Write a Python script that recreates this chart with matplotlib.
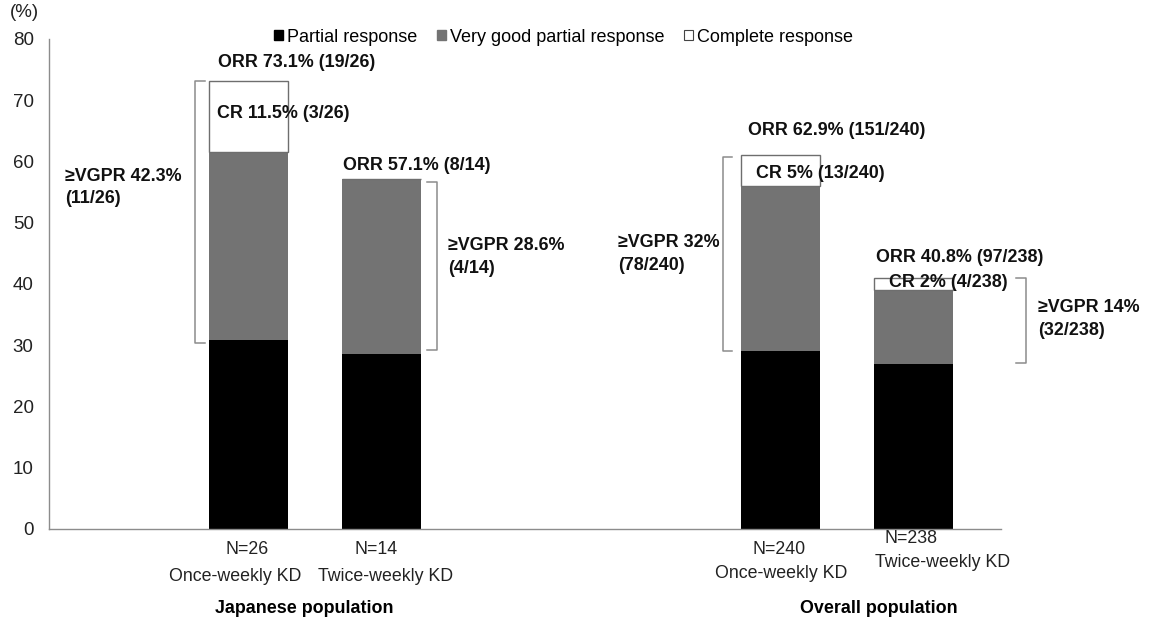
import matplotlib
matplotlib.use('Agg')
import matplotlib.pyplot as plt
from matplotlib.patches import Patch

plt.rcParams['font.family'] = ['Liberation Sans', 'DejaVu Sans']

# stacked bar values (%)
groups = ['Japanese population', 'Overall population']
n_labels = ['N=26', 'N=14', 'N=240', 'N=238']
arm_labels = ['Once-weekly KD', 'Twice-weekly KD', 'Once-weekly KD', 'Twice-weekly KD']
partial = [30.8, 28.6, 29.0, 27.0]
very_good = [30.8, 28.5, 27.0, 12.0]
complete = [11.5, 0.0, 5.0, 2.0]

orr_text = ['ORR 73.1% (19/26)', 'ORR 57.1% (8/14)', 'ORR 62.9% (151/240)', 'ORR 40.8% (97/238)']
cr_text = ['CR 11.5% (3/26)', None, 'CR 5% (13/240)', 'CR 2% (4/238)']
vgpr_text = ['≥VGPR 42.3%\n(11/26)', '≥VGPR 28.6%\n(4/14)', '≥VGPR 32%\n(78/240)', '≥VGPR 14%\n(32/238)']

x = [1.5, 2.5, 5.5, 6.5]
width = 0.594

fig = plt.figure(figsize=(11.5, 6.19), dpi=100)
ax = fig.add_axes([0.0426, 0.1454, 0.8278, 0.7916])

bottom2 = [p + v for p, v in zip(partial, very_good)]
ax.bar(x, partial, width, color='black', label='Partial response')
ax.bar(x, very_good, width, bottom=partial, color='#737373', label='Very good partial response')
ax.bar(x, complete, width, bottom=bottom2, color='white', edgecolor='#6e6e6e', linewidth=1.0,
       label='Complete response')

ax.set_xlim(0, 7.16)
ax.set_ylim(0, 80)
ax.set_yticks(range(0, 81, 10))
ax.set_xticks([])
ax.tick_params(axis='y', length=0, pad=11, labelsize=13.5, colors='#222222')
for s in ['top', 'right']:
    ax.spines[s].set_visible(False)
ax.spines['left'].set_color('#8c8c8c')
ax.spines['bottom'].set_color('#8c8c8c')
ax.spines['left'].set_linewidth(1.0)
ax.spines['bottom'].set_linewidth(1.0)

fig.text(0.009, 0.979, '(%)', fontsize=13.5, ha='left', va='center', color='#222222')

# annotations
bold = dict(fontsize=12.9, fontweight='bold', color='#111111', va='center', ha='left')
ax.text(1.27, 76.2, orr_text[0], **bold)
ax.text(1.26, 67.9, cr_text[0], **bold)
ax.text(0.12, 55.8, vgpr_text[0], linespacing=1.4, **bold)
ax.text(2.21, 59.3, orr_text[1], **bold)
ax.text(3.00, 44.4, vgpr_text[1], linespacing=1.4, **bold)
ax.text(5.26, 65.1, orr_text[2], **bold)
ax.text(5.32, 58.1, cr_text[2], **bold)
ax.text(4.28, 44.9, vgpr_text[2], linespacing=1.4, **bold)
ax.text(6.22, 44.4, orr_text[3], **bold)
ax.text(6.32, 40.2, cr_text[3], **bold)
ax.text(7.44, 34.3, vgpr_text[3], linespacing=1.4, clip_on=False, **bold)

# brackets: (x of vertical, x of ticks, y bottom, y top)
brackets = [(1.10, 1.17, 30.4, 73.1), (2.92, 2.84, 29.3, 56.7),
            (5.07, 5.14, 29.0, 60.7), (7.35, 7.27, 27.1, 41.0)]
for bx, tx, y0, y1 in brackets:
    ax.plot([tx, bx, bx, tx], [y0, y0, y1, y1], color='#8c8c8c', lw=1.1, clip_on=False)

# x labels
reg = dict(fontsize=12.8, color='#222222', ha='center', va='center', clip_on=False)
n_pos = [(1.49, -3.4), (2.46, -3.4), (5.49, -3.4), (6.48, -1.6)]
arm_pos = [(1.40, -7.8), (2.53, -7.8), (5.51, -7.3), (6.72, -5.5)]
for lbl, (px, py) in zip(n_labels, n_pos):
    ax.text(px, py, lbl, **reg)
for lbl, (px, py) in zip(arm_labels, arm_pos):
    ax.text(px, py, lbl, **reg)
ax.text(1.92, -12.9, groups[0], fontsize=12.9, fontweight='bold', ha='center', va='center', clip_on=False)
ax.text(6.24, -12.9, groups[1], fontsize=12.9, fontweight='bold', ha='center', va='center', clip_on=False)

handles = [Patch(facecolor='black', edgecolor='black'),
           Patch(facecolor='#737373', edgecolor='#737373'),
           Patch(facecolor='white', edgecolor='#444444', linewidth=0.8)]
fig.legend(handles, ['Partial response', 'Very good partial response', 'Complete response'],
           loc='center', bbox_to_anchor=(0.490, 0.940), ncol=3, frameon=False,
           fontsize=13.0, handlelength=0.5, handleheight=0.5, handletextpad=0.25,
           columnspacing=1.05, borderpad=0)

fig.savefig('out.png', dpi=100)
